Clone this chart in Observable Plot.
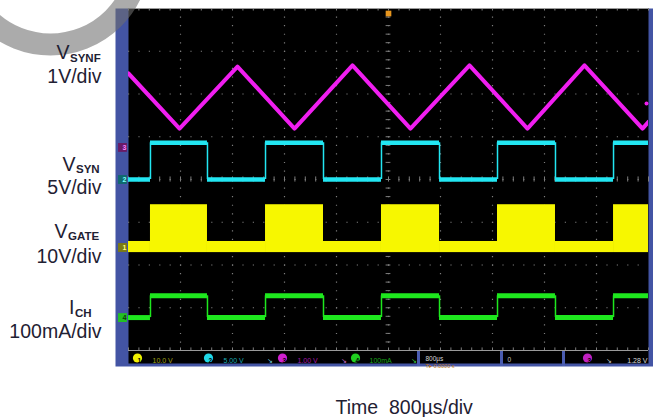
<!DOCTYPE html>
<html>
<head>
<meta charset="utf-8">
<script src="https://cdn.jsdelivr.net/npm/d3@7"></script>
<script src="https://cdn.jsdelivr.net/npm/@observablehq/plot@0.6"></script>
<style>
html,body{margin:0;padding:0;background:#fff;}
#chart svg{display:block;}
</style>
</head>
<body>
<div id="chart"></div>
<script>
// ---------------- data ----------------
const timePerDiv = 800;            // µs per division
const screenDivs = 10;
// VSYNF triangle vertices
const vsynfTime = [0, 785, 1677, 2554, 3446, 4338, 5246, 6138, 7015, 7908, 8000];   // µs
const vsynfVolt = [1.73, 0.44, 1.89, 0.44, 1.92, 0.44, 1.92, 0.44, 1.92, 0.44, 0.60]; // V
// common switching edges (first one rising)
const edgeTime = [338, 1215, 2108, 3000, 3892, 4785, 5677, 6569, 7462];             // µs
const vsynLevel = [0.0, 4.3];                    // V  (low, high)
const vgateBand = [[-1.2, 1.4], [-1.2, 10.0]];   // V  (off band, switching band)
const ichLevel = [0, 51];                        // mA (low, high)

// channels: VSYNF, VSYN, VGATE, ICH
const chMain = ["V", "V", "V", "I"];
const chSub = ["SYNF", "SYN", "GATE", "CH"];
const chScale = ["1V/div", "5V/div", "10V/div", "100mA/div"];
const chPerDiv = [1, 5, 10, 100];
const chGround = [0.75, 0, -1.59, -3.23];        // divisions from screen centre
const chNumber = ["3", "2", "1", "4"];
const statusNumbers = ["1", "2", "3", "4"];
const statusReadout = ["10.0 V", "5.00 V", "1.00 V", "100mA"];
const timebaseText = "800µs";
const triggerText = "1.28 V";
const triggerLevel = 1.03;                       // V on VSYNF channel (marker)
const xTitle = "Time\u00a0\u00a0800µs/div";

// ---------------- layout / style ----------------
const W = 653, H = 417;
const M = {top: 8, right: 5, bottom: 67, left: 128};
const tEnd = timePerDiv * screenDivs;
const plotW = W - M.left - M.right, plotH = H - M.top - M.bottom;
const font = "'Liberation Sans', Arial, Helvetica, sans-serif";
const colMag = "#f01ef0", colCyan = "#22e6f2", colYel = "#f7f700", colGreen = "#1ee81e";
const pxT = p => (p - M.left) / plotW * tEnd;           // pixel x -> µs (for decorations)
const pyD = p => 4 - (p - M.top) / plotH * 8;            // pixel y -> divisions

const toDiv = (c, v) => chGround[c] + v / chPerDiv[c];
const segs = d3.pairs([0, ...edgeTime, tEnd]).map(([a, b], i) => ({a, b, on: i % 2}));
const gridCol = "#7c7c7c";
const minorT = d3.range(0, 51).map(j => j * timePerDiv / 5);
const minorY = d3.range(0, 41).map(j => -4 + j * 0.2);
const tickT = pxT(M.left + 3);

const at = (x, y) => ({frameAnchor: "top-left", dx: x - M.left, dy: y - M.top});

const marks = [];
// scope bezel + screen
marks.push(Plot.frame({fill: "#4354a4", insetLeft: -13, insetRight: -5, insetTop: 0, insetBottom: -16}));
marks.push(Plot.frame({fill: "#000", insetBottom: -13}));
// graticule
marks.push(Plot.ruleX(d3.range(1, 10).map(k => k * timePerDiv), {x: d => d, stroke: gridCol, strokeWidth: 1.2, strokeDasharray: "1.2 7.35"}));
marks.push(Plot.ruleY(d3.range(-3, 4), {y: d => d, stroke: gridCol, strokeWidth: 1.2, strokeDasharray: "1.2 9.2"}));
marks.push(Plot.ruleX(minorT, {x: d => d, y1: -0.06, y2: 0.06, stroke: gridCol}));
marks.push(Plot.ruleY(minorY, {y: d => d, x1: tEnd / 2 - tickT * 0.8, x2: tEnd / 2 + tickT * 0.8, stroke: gridCol}));
marks.push(Plot.ruleX(minorT, {x: d => d, y1: 4, y2: 3.94, stroke: gridCol}));
marks.push(Plot.ruleX(minorT, {x: d => d, y1: -4, y2: -3.94, stroke: gridCol}));
marks.push(Plot.ruleY([4, -4], {y: d => d, stroke: "#9a9a9a", strokeWidth: 1}));

// gray ring decoration (top-left)
marks.push(Plot.dot([0], {...at(50, -45), r: 89, stroke: "#6f6f6f", strokeOpacity: 0.58, strokeWidth: 22, fill: "none"}));

// traces
marks.push(Plot.rect(segs, {x1: "a", x2: "b", y1: d => toDiv(2, vgateBand[d.on][0]), y2: d => toDiv(2, vgateBand[d.on][1]), fill: colYel, clip: true}));
marks.push(Plot.ruleY(segs, {x1: "a", x2: "b", y: d => toDiv(1, vsynLevel[d.on]), stroke: colCyan, strokeWidth: 4.5}));
marks.push(Plot.ruleX(edgeTime, {x: d => d, y1: toDiv(1, vsynLevel[0]), y2: toDiv(1, vsynLevel[1]), stroke: colCyan, strokeWidth: 1.5}));
marks.push(Plot.ruleY(segs, {x1: "a", x2: "b", y: d => toDiv(3, ichLevel[d.on]), stroke: colGreen, strokeWidth: 5}));
marks.push(Plot.ruleX(edgeTime, {x: d => d, y1: toDiv(3, ichLevel[0]), y2: toDiv(3, ichLevel[1]), stroke: colGreen, strokeWidth: 1.5}));
marks.push(Plot.line(vsynfTime.map((t, i) => ({t, v: vsynfVolt[i]})), {x: "t", y: d => toDiv(0, d.v), stroke: colMag, strokeWidth: 4, strokeLinejoin: "round", clip: true}));

// channel ground markers
const markerFill = ["#6a1a66", "#0f6a6e", "#7c7a12", "#22c022"];
const markerText = ["#ff80ff", "#80ffff", "#ffff80", "#0a3a0a"];
marks.push(Plot.dot(chGround.map((g, i) => ({g, i})), {y: "g", frameAnchor: "left", dx: -6, symbol: "square", r: 5, fill: d => markerFill[d.i]}));
marks.push(Plot.text(chGround.map((g, i) => ({g, i})), {y: "g", text: d => chNumber[d.i], frameAnchor: "left", dx: -6, fontSize: 7, fontWeight: "bold", fill: d => markerText[d.i]}));
// trigger level marker (right) and trigger position (top)
marks.push(Plot.dot([toDiv(0, triggerLevel)], {y: d => d, frameAnchor: "right", dx: -2, r: 2, fill: colMag}));
marks.push(Plot.dot([tEnd / 2], {x: d => d, frameAnchor: "top", dy: 5, symbol: "square", r: 3.2, fill: "#e8961e"}));

// status bar
const sepX = [418, 501, 563];
marks.push(Plot.ruleX(sepX.map(pxT), {x: d => d, y1: pyD(351), y2: pyD(366), stroke: "#4a5cb0", strokeWidth: 3}));
const circX = [137, 208, 282, 355];
const circCol = ["#f0f000", "#20d8e8", "#d020d0", "#20d020"];
const readX = [152, 223, 297, 369];
const readCol = ["#a0a018", "#1aa8b2", "#a818a8", "#18a418"];
statusNumbers.forEach((n, i) => {
  marks.push(Plot.dot([n], {...at(circX[i], 357.5), r: 4.6, fill: circCol[i]}));
  marks.push(Plot.text([n], {text: d => d, ...at(circX[i], 357.5), fontSize: 6.5, fontWeight: "bold", fill: "#000"}));
  marks.push(Plot.text([statusReadout[i]], {text: d => d, ...at(readX[i], 357.5), textAnchor: "start", fontSize: 7, fill: readCol[i]}));
});
const symX = [266, 340, 410];
const symCol = ["#7fd8e0", "#d070d0", "#40d040"];
symX.forEach((x, i) => marks.push(Plot.text(["↘"], {text: d => d, ...at(x, 357.5), fontSize: 7, fill: symCol[i]})));
marks.push(Plot.text([timebaseText], {text: d => d, ...at(425, 356), textAnchor: "start", fontSize: 6.5, fill: "#d8d8d8"}));
marks.push(Plot.text(["T▸ 0.0000 s"], {text: d => d, ...at(425, 363.5), textAnchor: "start", fontSize: 5.5, fill: "#c07818"}));
marks.push(Plot.text(["0"], {text: d => d, ...at(507, 357), textAnchor: "start", fontSize: 6.5, fill: "#c8c8c8"}));
marks.push(Plot.dot(["3"], {...at(587, 357.5), r: 4.6, fill: "#c020c0"}));
marks.push(Plot.text(["3"], {text: d => d, ...at(587, 357.5), fontSize: 6.5, fontWeight: "bold", fill: "#000"}));
marks.push(Plot.text(["↘"], {text: d => d, ...at(605, 357.5), fontSize: 7, fill: "#d0d0d0"}));
marks.push(Plot.text([triggerText], {text: d => d, ...at(647, 357.5), textAnchor: "end", fontSize: 7, fill: "#d8d8d8"}));

// channel labels (left)
const labelCol = "#1f2133";
const mainRight = [69, 75, 67, 74];
const mainBase = [58, 170, 237, 313];
const subBase = [61, 172, 239, 316];
const scaleBase = [82, 193, 262, 337];
chMain.forEach((m, i) => {
  marks.push(Plot.text([m], {text: d => d, ...at(mainRight[i], mainBase[i]), textAnchor: "end", lineAnchor: "bottom", fontSize: 19.5, fill: labelCol, fontFamily: font}));
  marks.push(Plot.text([chSub[i]], {text: d => d, ...at(mainRight[i] + 0.5, subBase[i]), textAnchor: "start", lineAnchor: "bottom", fontSize: 11.5, fontWeight: "bold", fill: labelCol, fontFamily: font}));
  marks.push(Plot.text([chScale[i]], {text: d => d, ...at(101, scaleBase[i]), textAnchor: "end", lineAnchor: "bottom", fontSize: 19.5, fill: labelCol, fontFamily: font}));
});
// time axis title
marks.push(Plot.text([xTitle], {text: d => d, ...at(335, 413), textAnchor: "start", lineAnchor: "bottom", fontSize: 19.5, fill: labelCol, fontFamily: font}));

const chart = Plot.plot({
  width: W, height: H,
  marginTop: M.top, marginRight: M.right, marginBottom: M.bottom, marginLeft: M.left,
  x: {domain: [0, tEnd], axis: null},
  y: {domain: [-4, 4], axis: null},
  style: {fontFamily: font, background: "#fff", overflow: "visible"},
  marks
});
document.getElementById("chart").append(chart);
</script>
</body>
</html>
